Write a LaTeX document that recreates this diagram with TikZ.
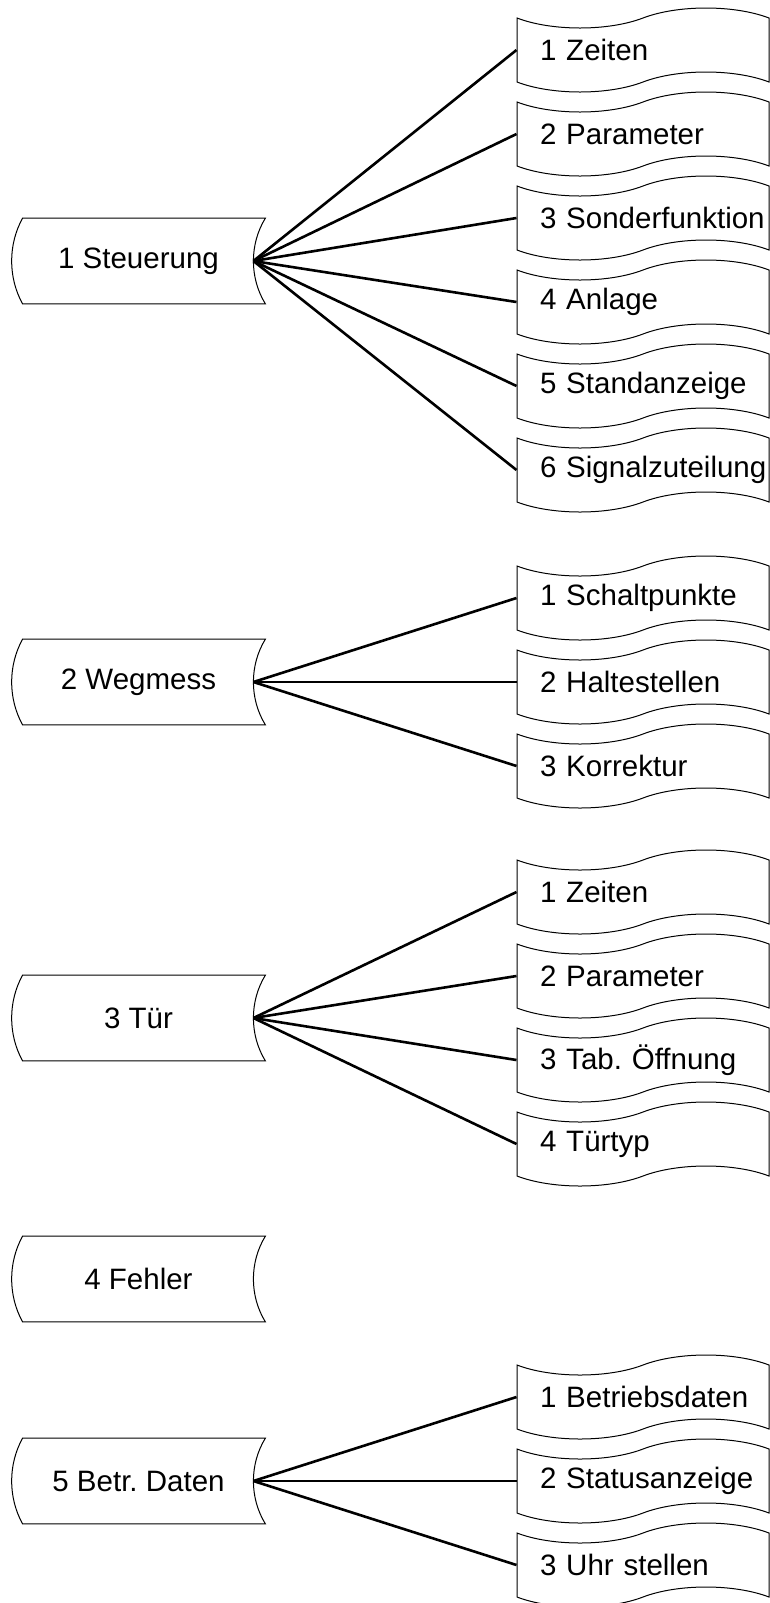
\documentclass[tikz,border=0pt]{standalone}
\usepackage{fontspec}
\setmainfont{Liberation Sans}
\frenchspacing
\usetikzlibrary{shapes.symbols}

\tikzset{
    hauptpunkt/.style={minimum width=126.5pt, minimum height=42.5pt, inner sep=0pt, font=\fontsize{14.75}{17}\selectfont},
    unterpunkt/.style={tape, draw, line width=0.5pt, tape bend top=in and out, tape bend bottom=in and out, tape bend height=10pt,
        minimum width=126pt, minimum height=42pt, inner xsep=0pt, inner ysep=0pt, text width=126pt, align=left,
        font=\fontsize{14.75}{17}\selectfont, execute at begin node={\hspace*{11.5pt}}},
    verbindung/.style={line width=1.3pt},
    rand/.style={line width=0.5pt}
}

\begin{document}
\begin{tikzpicture}[x=0.5pt, y=-0.5pt]
    \useasboundingbox (0,0) rectangle (770,1603);

    % 1 Steuerung
    \node [hauptpunkt] (steuerung) at (138.5,261) {1 Steuerung};
    \foreach \y/\lab [count=\i] in {50/1 Zeiten, 134/2 Parameter, 218/3 Sonderfunktion, 302/4 Anlage, 386/5 Standanzeige, 470/6 Signalzuteilung} {
        \node [unterpunkt] (steuerung\i) at (643,\y) {\lab};
        \draw [verbindung] ([xshift=-6pt]steuerung.east) -- (steuerung\i.west);
    }

    % 2 Wegmess
    \node [hauptpunkt] (wegmess) at (138.5,682) {2 Wegmess};
    \foreach \y/\lab [count=\i] in {598/1 Schaltpunkte, 682/2 Haltestellen, 766/3 Korrektur} {
        \node [unterpunkt] (wegmess\i) at (643,\y) {\lab};
        \draw [verbindung] ([xshift=-6pt]wegmess.east) -- (wegmess\i.west);
    }

    % 3 Tuer
    \node [hauptpunkt] (tuer) at (138.5,1018) {3 Tür};
    \foreach \y/\lab [count=\i] in {892/1 Zeiten, 976/2 Parameter, 1060/3 Tab. Öffnung, 1144/4 Türtyp} {
        \node [unterpunkt] (tuer\i) at (643,\y) {\lab};
        \draw [verbindung] ([xshift=-6pt]tuer.east) -- (tuer\i.west);
    }

    % 4 Fehler
    \node [hauptpunkt] (fehler) at (138.5,1279) {4 Fehler};

    % 5 Betr. Daten
    \node [hauptpunkt] (betrdaten) at (138.5,1481) {5 Betr. Daten};
    \foreach \y/\lab [count=\i] in {1397/1 Betriebsdaten, 1481/2 Statusanzeige, 1565/3 Uhr stellen} {
        \node [unterpunkt] (betrdaten\i) at (643,\y) {\lab};
        \draw [verbindung] ([xshift=-6pt]betrdaten.east) -- (betrdaten\i.west);
    }

    % Umriss der Hauptpunkte
    \foreach \n in {steuerung, wegmess, tuer, fehler, betrdaten} {
        \draw [rand] ([xshift=5.5pt]\n.north west) -- (\n.north east)
            .. controls ([xshift=-8pt, yshift=-13pt]\n.north east) and ([xshift=-8pt, yshift=13pt]\n.south east) .. (\n.south east)
            -- ([xshift=5.5pt]\n.south west)
            .. controls ([xshift=-1.8pt, yshift=13.2pt]\n.south west) and ([xshift=-1.8pt, yshift=-13.2pt]\n.north west) .. cycle;
    }
\end{tikzpicture}
\end{document}
